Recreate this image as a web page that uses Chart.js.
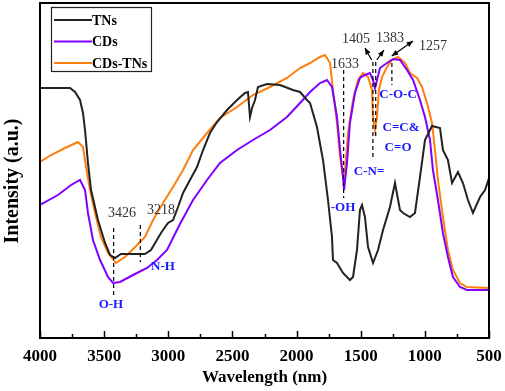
<!DOCTYPE html>
<html>
<head>
<meta charset="utf-8">
<script src="https://cdn.jsdelivr.net/npm/chart.js@4.4.1/dist/chart.umd.min.js"></script>
<style>
    html, body { margin: 0; padding: 0; background: #ffffff; }
    canvas { display: block; }
</style>
</head>
<body>
<canvas id="ftirChart" width="505" height="391"></canvas>
<script>
"use strict";

// x axis: wavelength, drawn high -> low
const xTickValues  = [4000, 3500, 3000, 2500, 2000, 1500, 1000, 500];
const xMinorValues = [3750, 3250, 2750, 2250, 1750, 1250, 750];

// TNs
const tnsWave = [4000, 3883, 3766, 3727, 3688, 3665, 3649, 3626, 3602, 3548, 3493, 3454, 3415, 3369, 3275, 3182,
    3135, 3057, 3002, 2963, 2924, 2885, 2831, 2776, 2729, 2675, 2620, 2542, 2464, 2402, 2379, 2363, 2347, 2324,
    2301, 2231, 2129, 2028, 1973, 1919, 1895, 1841, 1794, 1755, 1724, 1716, 1685, 1638, 1584, 1560, 1529, 1506,
    1490, 1467, 1443, 1404, 1365, 1326, 1272, 1233, 1194, 1170, 1116, 1077, 1038, 999, 944, 882, 859, 820, 788,
    742, 703, 664, 625, 570, 531, 500];
const tnsIntensity = [250, 250, 250, 246, 238, 225, 208, 175, 148, 118, 95, 83, 80, 84, 84, 84,
    88, 105, 115, 118, 131, 145, 158, 171, 188, 205, 216, 228, 238, 245, 246, 221, 230, 238,
    251, 254, 253, 248, 246, 238, 235, 211, 178, 138, 101, 78, 75, 65, 58, 61, 88, 128,
    133, 121, 91, 75, 88, 108, 131, 155, 128, 125, 121, 125, 161, 198, 212, 210, 188, 178, 155,
    166, 155, 138, 125, 141, 148, 160];

// CDs
const cdsWave = [4000, 3860, 3758, 3688, 3649, 3626, 3587, 3532, 3470, 3431, 3376, 3275, 3166, 3088, 3010, 2909,
    2807, 2698, 2597, 2464, 2340, 2207, 2075, 1973, 1895, 1817, 1763, 1724, 1685, 1661, 1638, 1630, 1607, 1584,
    1545, 1506, 1467, 1428, 1404, 1389, 1373, 1350, 1295, 1248, 1194, 1139, 1092, 1038, 999, 960, 937, 898,
    859, 820, 781, 726, 672, 500];
const cdsIntensity = [133, 143, 153, 158, 148, 125, 98, 78, 61, 55, 56, 63, 70, 78, 88, 114,
    138, 158, 175, 188, 198, 208, 221, 235, 246, 255, 258, 251, 221, 188, 161, 148, 175, 215,
    245, 260, 263, 265, 258, 250, 258, 270, 275, 279, 278, 268, 258, 238, 221, 198, 168, 138,
    105, 81, 61, 51, 48, 48];

// CDs-TNs
const cdsTnsWave = [4000, 3914, 3805, 3704, 3665, 3641, 3610, 3571, 3525, 3470, 3408, 3337, 3259, 3182, 3119, 3041,
    2963, 2885, 2807, 2698, 2597, 2464, 2340, 2207, 2075, 1973, 1895, 1817, 1778, 1739, 1716, 1685, 1661, 1638,
    1622, 1599, 1560, 1521, 1482, 1443, 1412, 1404, 1389, 1373, 1358, 1334, 1295, 1256, 1209, 1155, 1116, 1061,
    1022, 983, 944, 921, 898, 859, 820, 781, 726, 672, 500];
const cdsTnsIntensity = [176, 183, 190, 196, 191, 171, 148, 125, 101, 85, 75, 81, 91, 101, 118, 135,
    151, 168, 188, 205, 220, 231, 243, 251, 260, 270, 275, 281, 283, 275, 248, 215, 181, 161,
    168, 205, 238, 258, 265, 261, 248, 221, 208, 221, 248, 261, 271, 278, 281, 275, 265, 260,
    251, 235, 215, 188, 158, 121, 88, 68, 55, 51, 50];

const seriesNames  = ["TNs", "CDs", "CDs-TNs"];
const seriesColors = ["#222222", "#8000ff", "#ff7f0e"];

// annotations, in wavelength / intensity units
const peakNumbers = [
    {text: "3426", x: 3361, y: 125},
    {text: "3218", x: 3057, y: 128},
    {text: "1633", x: 1623, y: 274},
    {text: "1405", x: 1537, y: 299},
    {text: "1383", x: 1272, y: 300},
    {text: "1257", x: 937,  y: 292}
];
const groupLabels = [
    {text: "O-H",   x: 3447, y: 33},
    {text: "N-H",   x: 3041, y: 71},
    {text: "-OH",   x: 1638, y: 130},
    {text: "C-N=",  x: 1435, y: 166},
    {text: "C-O-C", x: 1209, y: 243},
    {text: "C=C&",  x: 1186, y: 210},
    {text: "C=O",   x: 1209, y: 190}
];
const dashMarks = [
    {x: 3426, from: 110, to: 43},
    {x: 3218, from: 113, to: 76},
    {x: 1633, from: 268, to: 140},
    {x: 1405, from: 276, to: 178},
    {x: 1383, from: 276, to: 200},
    {x: 1257, from: 275, to: 253}
];
const arrows = [
    {x1: 1415, y1: 278, x2: 1467, y2: 290, both: false},
    {x1: 1375, y1: 278, x2: 1319, y2: 288, both: false},
    {x1: 1258, y1: 282, x2: 1092, y2: 297, both: true}
];

const serif = "'Liberation Serif', 'Times New Roman', serif";

function toPoints(waves, values)
{
    return waves.map((w, i) => ({x: w, y: values[i]}));
}

function arrowHead(ctx, fx, fy, tx, ty)
{
    const a = Math.atan2(ty - fy, tx - fx);
    ctx.beginPath();
    ctx.moveTo(tx, ty);
    ctx.lineTo(tx - 7 * Math.cos(a - 0.4), ty - 7 * Math.sin(a - 0.4));
    ctx.lineTo(tx - 7 * Math.cos(a + 0.4), ty - 7 * Math.sin(a + 0.4));
    ctx.closePath();
    ctx.fill();
}

const framePlugin = {
    id: "frameAndNotes",
    afterDatasetsDraw(chart)
    {
        const {ctx, chartArea: area, scales: {x, y}} = chart;
        ctx.save();

        // inward ticks on the bottom axis
        ctx.strokeStyle = "#000000";
        ctx.lineWidth   = 1.5;
        ctx.beginPath();
        xTickValues.forEach(v =>
        {
            const px = Math.round(x.getPixelForValue(v)) + 0.5;
            ctx.moveTo(px, area.bottom);
            ctx.lineTo(px, area.bottom - 7);
        });
        xMinorValues.forEach(v =>
        {
            const px = Math.round(x.getPixelForValue(v)) + 0.5;
            ctx.moveTo(px, area.bottom);
            ctx.lineTo(px, area.bottom - 4);
        });
        ctx.stroke();

        // dashed peak markers
        ctx.lineWidth = 1.2;
        ctx.setLineDash([4, 3]);
        ctx.beginPath();
        dashMarks.forEach(d =>
        {
            const px = x.getPixelForValue(d.x);
            ctx.moveTo(px, y.getPixelForValue(d.from));
            ctx.lineTo(px, y.getPixelForValue(d.to));
        });
        ctx.stroke();
        ctx.setLineDash([]);

        // arrows
        ctx.fillStyle = "#000000";
        arrows.forEach(a =>
        {
            const x1 = x.getPixelForValue(a.x1), y1 = y.getPixelForValue(a.y1);
            const x2 = x.getPixelForValue(a.x2), y2 = y.getPixelForValue(a.y2);
            ctx.beginPath();
            ctx.moveTo(x1, y1);
            ctx.lineTo(x2, y2);
            ctx.stroke();
            arrowHead(ctx, x1, y1, x2, y2);
            if (a.both)
            {
                arrowHead(ctx, x2, y2, x1, y1);
            }
        });

        // peak numbers
        ctx.textAlign    = "center";
        ctx.textBaseline = "middle";
        ctx.fillStyle    = "#333333";
        ctx.font         = "14px " + serif;
        peakNumbers.forEach(p => ctx.fillText(p.text, x.getPixelForValue(p.x), y.getPixelForValue(p.y)));

        // functional groups
        ctx.fillStyle = "#1a1aff";
        ctx.font      = "bold 13px " + serif;
        groupLabels.forEach(p => ctx.fillText(p.text, x.getPixelForValue(p.x), y.getPixelForValue(p.y)));

        // frame
        ctx.strokeStyle = "#000000";
        ctx.lineWidth   = 2;
        ctx.strokeRect(area.left, area.top, area.right - area.left, area.bottom - area.top);

        // legend box
        ctx.lineWidth   = 1.2;
        ctx.strokeStyle = "#222222";
        ctx.strokeRect(51.5, 7.5, 100, 64);
        ctx.font         = "bold 14px " + serif;
        ctx.textAlign    = "left";
        ctx.fillStyle    = "#000000";
        chart.data.datasets.forEach((ds, i) =>
        {
            const ly = 20 + i * 21.5;
            ctx.strokeStyle = ds.borderColor;
            ctx.lineWidth   = 2;
            ctx.beginPath();
            ctx.moveTo(54, ly);
            ctx.lineTo(92, ly);
            ctx.stroke();
            ctx.fillText(ds.label, 92, ly + 1);
        });

        // y axis title
        ctx.translate(13, 181);
        ctx.rotate(-Math.PI / 2);
        ctx.textAlign = "center";
        ctx.font      = "bold 20px " + serif;
        ctx.fillText("Intensity (a.u.)", 0, 0);

        ctx.restore();
    }
};

new Chart(document.getElementById("ftirChart").getContext("2d"), {
    type:    "line",
    data:    {
        datasets: [
            {label: seriesNames[0], data: toPoints(tnsWave, tnsIntensity), borderColor: seriesColors[0]},
            {label: seriesNames[1], data: toPoints(cdsWave, cdsIntensity), borderColor: seriesColors[1]},
            {label: seriesNames[2], data: toPoints(cdsTnsWave, cdsTnsIntensity), borderColor: seriesColors[2]}
        ]
    },
    options: {
        responsive: false,
        animation:  false,
        elements:   {
            line:  {borderWidth: 2, tension: 0},
            point: {radius: 0}
        },
        layout:     {
            padding: {top: 3, right: 16, left: 0, bottom: 0}
        },
        scales:     {
            x: {
                type:    "linear",
                reverse: true,
                min:     500,
                max:     4000,
                afterBuildTicks: scale =>
                {
                    scale.ticks = xTickValues.slice().sort((a, b) => a - b).map(v => ({value: v}));
                },
                afterFit: scale =>
                {
                    scale.height = 53;
                },
                grid:   {display: false, drawTicks: false},
                border: {display: false},
                ticks:  {
                    autoSkip:    false,
                    maxRotation: 0,
                    padding:     8,
                    color:       "#000000",
                    font:        {family: serif, size: 17, weight: "bold"},
                    callback:    value => "" + value
                },
                title:  {
                    display: true,
                    text:    "Wavelength (nm)",
                    color:   "#000000",
                    font:    {family: serif, size: 17, weight: "bold"},
                    padding: {top: 0, bottom: 3}
                }
            },
            y: {
                min:    0,
                max:    335,
                afterFit: scale =>
                {
                    scale.width = 40;
                },
                grid:   {display: false, drawTicks: false},
                border: {display: false},
                ticks:  {display: false}
            }
        },
        plugins:    {
            legend:  {display: false},
            tooltip: {enabled: false}
        }
    },
    plugins: [framePlugin]
});
</script>
</body>
</html>
